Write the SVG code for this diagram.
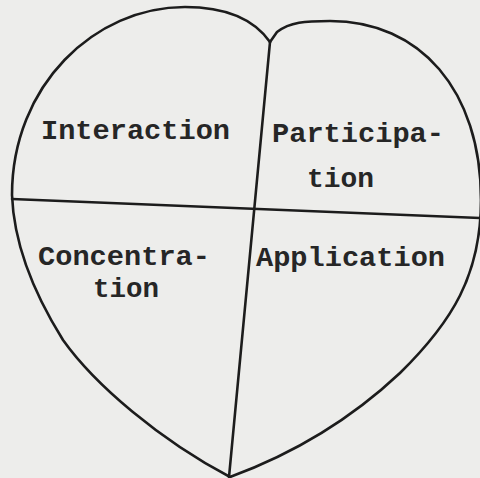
<svg xmlns="http://www.w3.org/2000/svg" width="480" height="478" viewBox="0 0 480 478">
<style>
.ln{fill:none;stroke:#1c1c1c;stroke-width:2.6;stroke-linecap:round;stroke-linejoin:round}
.t{font-family:"Liberation Mono","Courier New",monospace;font-weight:bold;font-size:27px;fill:#262626}
</style>
<rect width="480" height="478" fill="#ededeb"/>
<g id="connectors">
<path class="ln" d="M270,42 C258,25 235,7 185,7 C95,7 12,85 12,195 C14,250 38,300 63,340 C95,385 160,440 230,477"/>
<path class="ln" d="M270,42 L277,32 C290,22 305,21 330,21 C420,21 481,90 481,200 C481,275 452,322 400,373 C350,420 290,455 230,477"/>
<path class="ln" d="M12,199 L480,218"/>
<path class="ln" d="M270,42 L229,477"/>
</g>
<g id="interaction"><text class="t" x="41" y="139" textLength="189" lengthAdjust="spacingAndGlyphs">Interaction</text></g>
<g id="participation"><text class="t" x="272" y="142" textLength="172" lengthAdjust="spacingAndGlyphs">Participa-</text><text class="t" x="307" y="187" textLength="67" lengthAdjust="spacingAndGlyphs">tion</text></g>
<g id="concentration"><text class="t" x="38" y="265" textLength="172" lengthAdjust="spacingAndGlyphs">Concentra-</text><text class="t" x="93" y="297" textLength="66" lengthAdjust="spacingAndGlyphs">tion</text></g>
<g id="application"><text class="t" x="256" y="266" textLength="189" lengthAdjust="spacingAndGlyphs">Application</text></g>
</svg>
